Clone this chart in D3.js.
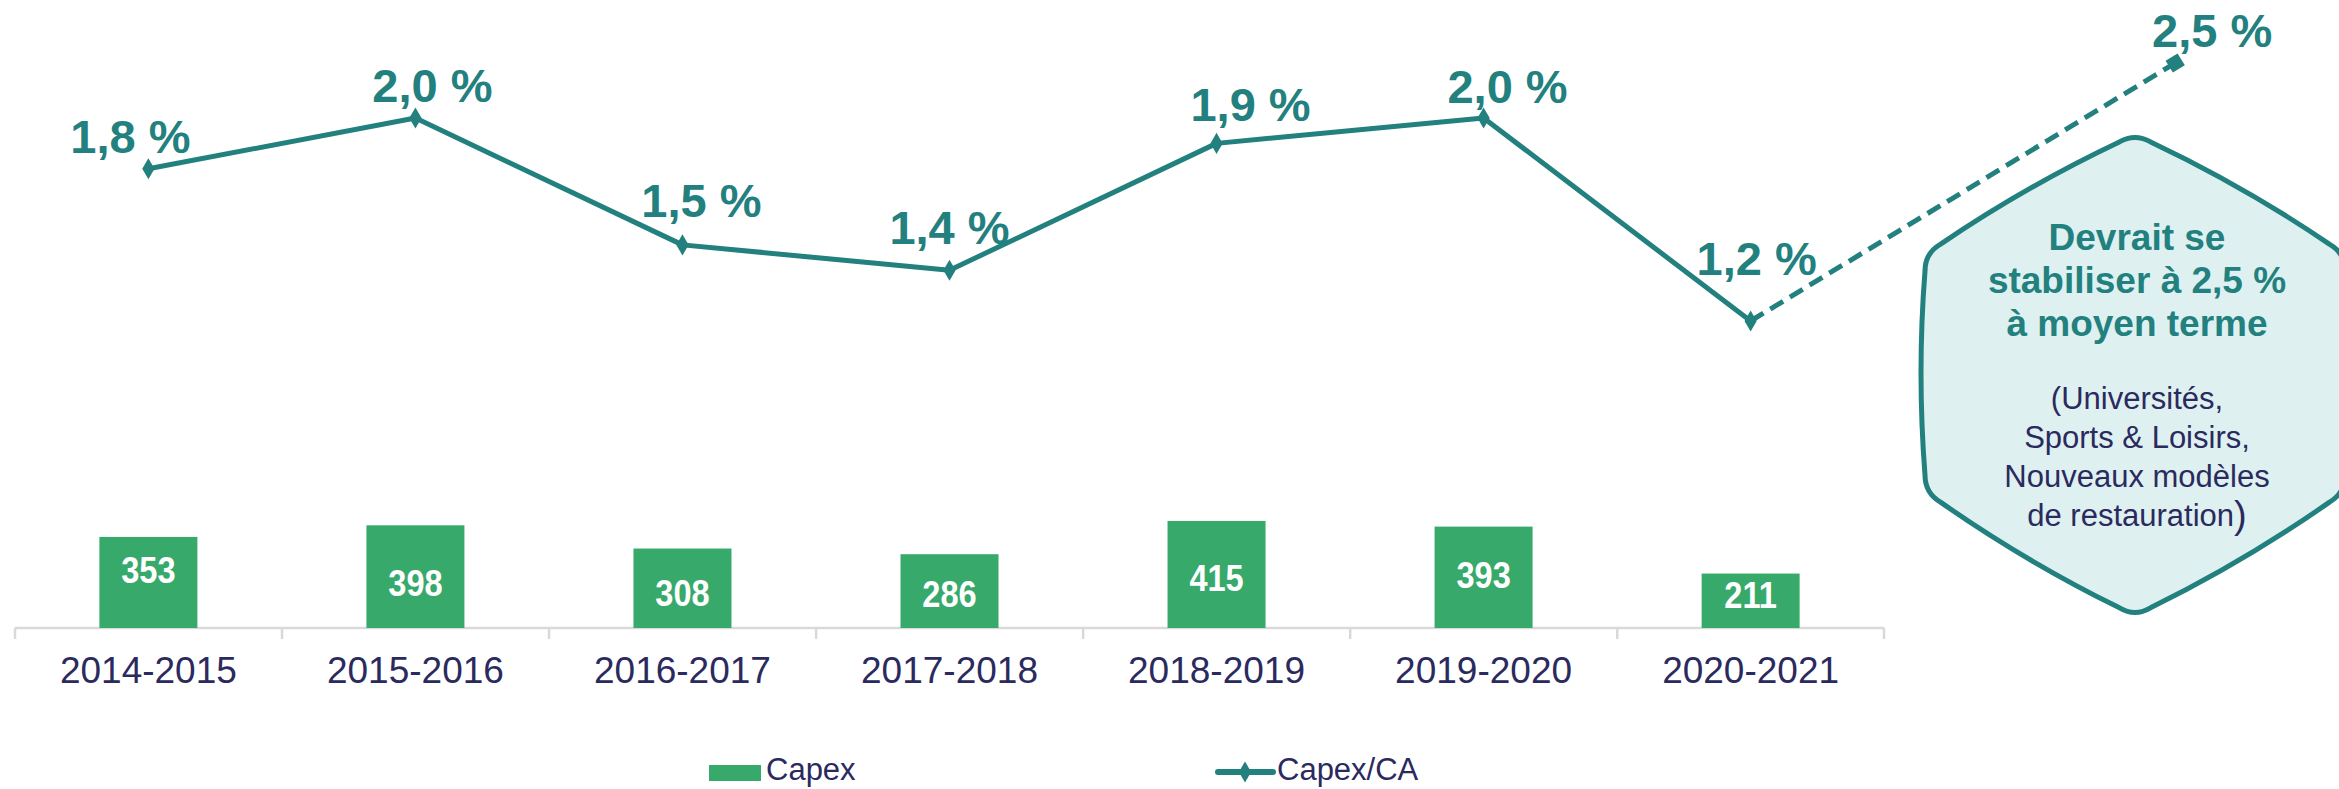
<!DOCTYPE html>
<html>
<head>
<meta charset="utf-8">
<script src="https://cdn.jsdelivr.net/npm/d3@7"></script>
<style>
  body { margin: 0; background: #fff; }
  svg { display: block; }
  text { font-family: "Liberation Sans", Arial, sans-serif; }
</style>
</head>
<body>
<div id="chart"></div>
<script>
var width = 2339,
    height = 789;

// data
var years = ["2014-2015", "2015-2016", "2016-2017", "2017-2018", "2018-2019", "2019-2020", "2020-2021"];
var capex = [353, 398, 308, 286, 415, 393, 211];
var capexRatio = [1.8, 2.0, 1.5, 1.4, 1.9, 2.0, 1.2];
var targetRatio = 2.5;
var noteTitle = ["Devrait se", "stabiliser à 2,5 %", "à moyen terme"];
var noteBody = ["(Universités,", "Sports & Loisirs,", "Nouveaux modèles", "de restauration"];
var legendNames = ["Capex", "Capex/CA"];

var teal = "#22807f",
    green = "#37a96a",
    navy = "#2b2a5e";

var fmt = function(v) { return d3.format(".1f")(v).replace(".", ",") + " %"; };

var svg = d3.select("#chart").append("svg")
    .attr("width", width)
    .attr("height", height);

var baseY = 628;

var x = d3.scaleBand()
    .domain(years)
    .range([15, 15 + 267 * years.length])
    .paddingInner(0.633)
    .paddingOuter(0.316);

var xc = function(d) { return x(d) + x.bandwidth() / 2; };

var yBar = d3.scaleLinear()
    .domain([0, 500])
    .range([baseY, baseY - 129]);

var yLine = d3.scaleLinear()
    .domain([1.2, 2.0])
    .range([321, 118]);

// the 2,5 % target is drawn on its own squeezed scale, like in the slide
var yTarget = d3.scaleLinear()
    .domain([1.2, targetRatio])
    .range([yLine(1.2), 63]);

// ---- callout hexagon (drawn first, line passes over it)
var hx = 2135, hTop = 133, hBot = 617, hL = 1925, hR = 2345, hS1 = 253, hS2 = 493;
var pts = [[hx, hTop], [hR, hS1], [hR, hS2], [hx, hBot], [hL, hS2], [hL, hS1]];
var r = 18, bulge = 4;
var p = d3.path();
function along(a, b, t) { return [a[0] + (b[0] - a[0]) * t, a[1] + (b[1] - a[1]) * t]; }
var n = pts.length;
for (var i = 0; i < n; i++) {
  var a = pts[i], b = pts[(i + 1) % n], c = pts[(i + 2) % n];
  var len = Math.hypot(b[0] - a[0], b[1] - a[1]);
  var s = along(a, b, r / len), e = along(a, b, 1 - r / len);
  var ux = (b[0] - a[0]) / len, uy = (b[1] - a[1]) / len;
  var m = along(a, b, 0.5);
  if (i === 0) p.moveTo(s[0], s[1]);
  p.quadraticCurveTo(m[0] + uy * bulge * 2, m[1] - ux * bulge * 2, e[0], e[1]);
  var len2 = Math.hypot(c[0] - b[0], c[1] - b[1]);
  var s2 = along(b, c, r / len2);
  p.quadraticCurveTo(b[0], b[1], s2[0], s2[1]);
}
p.closePath();

svg.append("path")
    .attr("d", p.toString())
    .attr("fill", "#def1f0")
    .attr("stroke", teal)
    .attr("stroke-width", 5);

var note = svg.append("g").attr("class", "note");
note.selectAll(".title")
    .data(noteTitle)
    .enter().append("text")
      .attr("class", "title")
      .attr("x", hx + 2)
      .attr("y", function(d, i) { return 250 + i * 43; })
      .attr("text-anchor", "middle")
      .attr("font-size", 37)
      .attr("font-weight", "bold")
      .attr("fill", teal)
      .text(function(d) { return d; });

var body = note.selectAll(".body")
    .data(noteBody)
    .enter().append("text")
      .attr("class", "body")
      .attr("x", hx + 2)
      .attr("y", function(d, i) { return 409 + i * 39; })
      .attr("text-anchor", "middle")
      .attr("font-size", 31)
      .attr("fill", navy)
      .text(function(d) { return d; });
body.filter(function(d, i) { return i === noteBody.length - 1; })
  .append("tspan")
    .attr("font-size", 38)
    .attr("dy", 2)
    .text(")");

// ---- x axis
var axis = svg.append("g").attr("class", "axis");
axis.append("line")
    .attr("x1", x.range()[0]).attr("x2", x.range()[1])
    .attr("y1", baseY).attr("y2", baseY)
    .attr("stroke", "#d9d9d9").attr("stroke-width", 2.5);

var tickX = years.map(function(d) { return x(d) - x.step() * x.paddingOuter(); });
tickX.push(x.range()[1]);
axis.selectAll(".tick")
    .data(tickX)
    .enter().append("line")
      .attr("x1", function(d) { return d; }).attr("x2", function(d) { return d; })
      .attr("y1", baseY).attr("y2", baseY + 11)
      .attr("stroke", "#d9d9d9").attr("stroke-width", 2.5);

axis.selectAll(".lab")
    .data(years)
    .enter().append("text")
      .attr("x", xc)
      .attr("y", 683)
      .attr("text-anchor", "middle")
      .attr("font-size", 37)
      .attr("fill", navy)
      .text(function(d) { return d; });

// ---- bars
svg.selectAll(".bar")
    .data(years)
    .enter().append("rect")
      .attr("class", "bar")
      .attr("x", function(d) { return x(d); })
      .attr("width", x.bandwidth())
      .attr("y", function(d, i) { return yBar(capex[i]); })
      .attr("height", function(d, i) { return baseY - yBar(capex[i]); })
      .attr("fill", green);

// label baselines sit a bit differently inside each bar in the source slide
var barLabelDrop = [46, 71, 57, 53, 70, 61, 34];
svg.selectAll(".barlab")
    .data(years)
    .enter().append("text")
      .attr("class", "barlab")
      .attr("text-anchor", "middle")
      .attr("transform", function(d, i) {
        return "translate(" + xc(d) + "," + (yBar(capex[i]) + barLabelDrop[i]) + ") scale(0.88,1)";
      })
      .attr("font-size", 37)
      .attr("font-weight", "bold")
      .attr("fill", "#fff")
      .text(function(d, i) { return capex[i]; });

// ---- ratio line
var pts2 = years.map(function(d, i) { return [xc(d), yLine(capexRatio[i])]; });
var line = d3.line();

var last = pts2[pts2.length - 1];
var target = [xc(years[years.length - 1]) + x.step() * 1.59, yTarget(targetRatio)];

svg.append("path")
    .attr("d", line([last, target]))
    .attr("fill", "none")
    .attr("stroke", teal)
    .attr("stroke-width", 5)
    .attr("stroke-dasharray", "15,8");

var ang = Math.atan2(target[1] - last[1], target[0] - last[0]) * 180 / Math.PI;
svg.append("rect")
    .attr("x", -7).attr("y", -7).attr("width", 14).attr("height", 14)
    .attr("fill", teal)
    .attr("transform", "translate(" + target + ") rotate(" + ang + ")");

svg.append("path")
    .attr("d", line(pts2))
    .attr("fill", "none")
    .attr("stroke", teal)
    .attr("stroke-width", 5)
    .attr("stroke-linejoin", "round");

var diamond = d3.symbol().type(d3.symbolDiamond).size(130);
svg.selectAll(".pt")
    .data(pts2)
    .enter().append("path")
      .attr("d", diamond)
      .attr("transform", function(d) { return "translate(" + d + ")"; })
      .attr("fill", teal);

var labelNudge = [[-18, -16], [17, -16], [19, -28], [0, -26], [34, -22], [24, -15], [6, -46]];
svg.selectAll(".ratiolab")
    .data(pts2)
    .enter().append("text")
      .attr("x", function(d, i) { return d[0] + labelNudge[i][0]; })
      .attr("y", function(d, i) { return d[1] + labelNudge[i][1]; })
      .attr("text-anchor", "middle")
      .attr("font-size", 47)
      .attr("font-weight", "bold")
      .attr("fill", teal)
      .text(function(d, i) { return fmt(capexRatio[i]); });

svg.append("text")
    .attr("x", target[0] + 37)
    .attr("y", target[1] - 16)
    .attr("text-anchor", "middle")
    .attr("font-size", 47)
    .attr("font-weight", "bold")
    .attr("fill", teal)
    .text(fmt(targetRatio));

// ---- legend
var leg = svg.append("g").attr("class", "legend");
leg.append("rect")
    .attr("x", 709).attr("y", 765).attr("width", 52).attr("height", 16)
    .attr("fill", green);
leg.append("text")
    .attr("x", 766).attr("y", 780)
    .attr("font-size", 31)
    .attr("fill", navy)
    .text(legendNames[0]);

leg.append("line")
    .attr("x1", 1218).attr("x2", 1273).attr("y1", 772).attr("y2", 772)
    .attr("stroke", teal).attr("stroke-width", 6).attr("stroke-linecap", "round");
leg.append("path")
    .attr("d", diamond)
    .attr("transform", "translate(1245,772)")
    .attr("fill", teal);
leg.append("text")
    .attr("x", 1277).attr("y", 780)
    .attr("font-size", 31)
    .attr("fill", navy)
    .text(legendNames[1]);
</script>
</body>
</html>
